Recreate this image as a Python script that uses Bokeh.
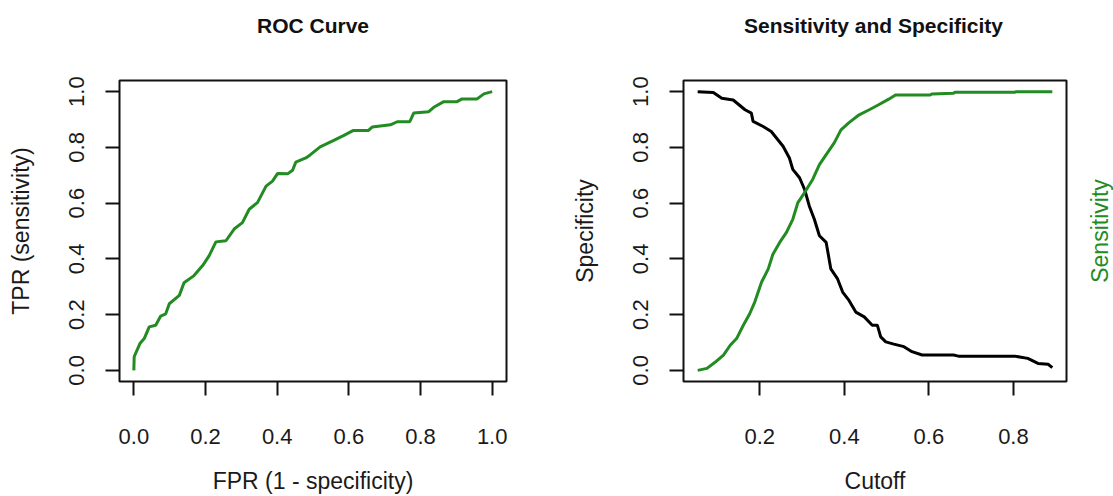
import math
from bokeh.plotting import figure
from bokeh.models import FixedTicker, Range1d
from bokeh.core.properties import value
from bokeh.layouts import row, column
from bokeh.embed import file_html
from bokeh.resources import INLINE

# ---------------- data ----------------
roc_fpr = [0.000, 0.001, 0.017, 0.029, 0.043, 0.061, 0.075, 0.089, 0.099, 0.127,
           0.140, 0.168, 0.192, 0.210, 0.229, 0.257, 0.280, 0.303, 0.322, 0.345,
           0.369, 0.387, 0.401, 0.429, 0.443, 0.452, 0.480, 0.492, 0.520, 0.558,
           0.585, 0.613, 0.655, 0.665, 0.716, 0.735, 0.770, 0.781, 0.823, 0.837,
           0.865, 0.902, 0.916, 0.958, 0.977, 1.000]
roc_tpr = [0.000, 0.049, 0.096, 0.114, 0.156, 0.162, 0.195, 0.203, 0.239, 0.269,
           0.314, 0.340, 0.376, 0.411, 0.461, 0.465, 0.507, 0.530, 0.578, 0.602,
           0.661, 0.679, 0.706, 0.705, 0.718, 0.747, 0.762, 0.773, 0.802, 0.825,
           0.842, 0.861, 0.861, 0.873, 0.881, 0.892, 0.892, 0.923, 0.928, 0.944,
           0.964, 0.964, 0.974, 0.974, 0.992, 1.000]

spec_cutoff = [0.053, 0.090, 0.110, 0.137, 0.165, 0.180, 0.184, 0.208, 0.227, 0.255,
               0.270, 0.278, 0.294, 0.306, 0.317, 0.329, 0.341, 0.357, 0.368, 0.384,
               0.396, 0.411, 0.427, 0.447, 0.466, 0.478, 0.486, 0.498, 0.517, 0.541,
               0.560, 0.584, 0.658, 0.670, 0.803, 0.834, 0.858, 0.882, 0.892]
specificity = [1.000, 0.997, 0.976, 0.970, 0.935, 0.923, 0.893, 0.875, 0.857, 0.804,
               0.762, 0.721, 0.691, 0.649, 0.590, 0.542, 0.483, 0.459, 0.364, 0.328,
               0.281, 0.251, 0.209, 0.192, 0.162, 0.162, 0.120, 0.102, 0.094, 0.085,
               0.067, 0.055, 0.055, 0.051, 0.051, 0.043, 0.025, 0.022, 0.010]

sens_cutoff = [0.053, 0.075, 0.094, 0.114, 0.130, 0.145, 0.161, 0.176, 0.188, 0.204,
               0.220, 0.231, 0.247, 0.263, 0.278, 0.290, 0.306, 0.325, 0.341, 0.357,
               0.376, 0.392, 0.411, 0.435, 0.459, 0.480, 0.505, 0.521, 0.603, 0.607,
               0.658, 0.662, 0.803, 0.807, 0.892]
sensitivity = [0.000, 0.007, 0.029, 0.055, 0.090, 0.114, 0.162, 0.203, 0.245, 0.316,
               0.364, 0.417, 0.459, 0.495, 0.542, 0.602, 0.638, 0.685, 0.738, 0.774,
               0.816, 0.863, 0.889, 0.917, 0.935, 0.952, 0.973, 0.988, 0.988, 0.992,
               0.994, 0.998, 0.998, 1.000, 1.000]

roc_x_ticks = [0.0, 0.2, 0.4, 0.6, 0.8, 1.0]
roc_x_labels = ["0.0", "0.2", "0.4", "0.6", "0.8", "1.0"]
y_ticks = [0.0, 0.2, 0.4, 0.6, 0.8, 1.0]
y_labels = ["0.0", "0.2", "0.4", "0.6", "0.8", "1.0"]
cut_x_ticks = [0.2, 0.4, 0.6, 0.8]
cut_x_labels = ["0.2", "0.4", "0.6", "0.8"]
titles = ["ROC Curve", "Sensitivity and Specificity"]

# ---------------- style / geometry ----------------
FONT = "Liberation Sans"
GREEN = "#228B22"
TXT = "#1a1a1a"
TICK_FS = "22px"
LAB_FS = "23px"
TITLE_FS = "21px"
W = 1113
STRIP = 40          # height of the strip that carries the panel titles
H = 496 - STRIP     # height of the panels
TOP = 40
BOTTOM = 114
L1, FW1, R1 = 119, 387, 62      # left panel: border, frame, border
L2, FW2, R2 = 112, 386, 2       # right panel
W3 = W - (L1 + FW1 + R1) - (L2 + FW2 + R2)


def padded(lo, hi):
    d = (hi - lo) * 0.04
    return Range1d(lo - d, hi + d)


def style(p, xt, xl, xlab, ylab):
    p.outline_line_color = "#111111"
    p.outline_line_width = 2
    p.outline_line_alpha = 1
    p.grid.grid_line_color = None
    p.background_fill_color = "white"
    p.border_fill_color = "white"
    for ax in (p.xaxis[0], p.yaxis[0]):
        ax.axis_line_color = None
        ax.major_tick_out = 14
        ax.major_tick_in = 0
        ax.minor_tick_out = 0
        ax.minor_tick_in = 0
        ax.major_tick_line_color = "#111111"
        ax.major_tick_line_width = 2
        ax.major_label_text_font = FONT
        ax.major_label_text_font_size = TICK_FS
        ax.major_label_text_color = TXT
        ax.axis_label_text_font = FONT
        ax.axis_label_text_font_size = LAB_FS
        ax.axis_label_text_font_style = "normal"
        ax.axis_label_text_color = TXT
    p.xaxis.ticker = FixedTicker(ticks=xt)
    p.xaxis.major_label_overrides = dict(zip(xt, xl))
    p.yaxis.ticker = FixedTicker(ticks=y_ticks)
    p.yaxis.major_label_overrides = dict(zip(y_ticks, y_labels))
    p.yaxis.major_label_orientation = "vertical"
    p.xaxis.major_label_standoff = 33
    p.yaxis.major_label_standoff = 21
    p.xaxis.axis_label = xlab
    p.yaxis.axis_label = ylab
    p.xaxis.axis_label_standoff = 21
    p.yaxis.axis_label_standoff = 33


def bare(p):
    p.axis.visible = False
    p.grid.grid_line_color = None
    p.outline_line_color = None
    p.background_fill_color = "white"
    p.border_fill_color = "white"


# ---------------- title strip ----------------
strip = figure(width=W, height=STRIP, x_range=Range1d(0, W), y_range=Range1d(0, STRIP),
               output_backend="svg", toolbar_location=None, title_location=None,
               min_border_left=0, min_border_right=0, min_border_top=0, min_border_bottom=0)
bare(strip)
title_x = [L1 + FW1 / 2, (L1 + FW1 + R1) + L2 + FW2 / 2]
strip.text(x=title_x, y=[STRIP - 25, STRIP - 25], text=titles,
           text_align="center", text_baseline="middle", text_color="#111111",
           text_font=value(FONT), text_font_style="bold", text_font_size=value(TITLE_FS))

# ---------------- left: ROC curve ----------------
p1 = figure(width=L1 + FW1 + R1, height=H, x_range=padded(0, 1), y_range=padded(0, 1),
            output_backend="svg", toolbar_location=None, title_location=None,
            min_border_left=L1, min_border_right=R1,
            min_border_top=TOP, min_border_bottom=BOTTOM)
p1.line(roc_fpr, roc_tpr, line_color=GREEN, line_width=3)
style(p1, roc_x_ticks, roc_x_labels, "FPR (1 - specificity)", "TPR (sensitivity)")

# ---------------- right: sensitivity / specificity ----------------
cmin = min(spec_cutoff + sens_cutoff)
cmax = max(spec_cutoff + sens_cutoff)
p2 = figure(width=L2 + FW2 + R2, height=H, x_range=padded(cmin, cmax), y_range=padded(0, 1),
            output_backend="svg", toolbar_location=None, title_location=None,
            min_border_left=L2, min_border_right=R2,
            min_border_top=TOP, min_border_bottom=BOTTOM)
p2.line(spec_cutoff, specificity, line_color="black", line_width=3)
p2.line(sens_cutoff, sensitivity, line_color=GREEN, line_width=3)
style(p2, cut_x_ticks, cut_x_labels, "Cutoff", "Specificity")

# ---------------- right-side axis title (green "Sensitivity") ----------------
p3 = figure(width=W3, height=H, x_range=Range1d(0, W3), y_range=padded(0, 1),
            output_backend="svg", toolbar_location=None, title_location=None,
            min_border_left=0, min_border_right=0,
            min_border_top=TOP, min_border_bottom=BOTTOM)
bare(p3)
p3.text(x=[31], y=[0.5], text=["Sensitivity"], angle=math.pi / 2,
        text_align="center", text_baseline="middle", text_color=GREEN,
        text_font=value(FONT), text_font_size=value(LAB_FS))

layout = column(strip, row(p1, p2, p3))
open("out.html", "w").write(file_html(layout, INLINE))
